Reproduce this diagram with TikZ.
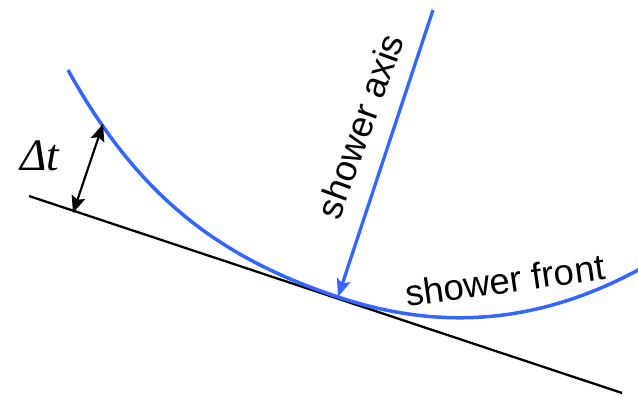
\documentclass[tikz,border=0pt]{standalone}
\usepackage{fontspec}
\setmainfont{Liberation Sans}
\newfontfamily\dtfont{Liberation Serif}
\usetikzlibrary{arrows.meta}
\definecolor{frontblue}{RGB}{51,102,255}
\tikzset{
  ground/.style={line width=2.3pt, black},
  front/.style={line width=3.5pt, frontblue},
  axisline/.style={line width=3.3pt, frontblue, -{Stealth[length=18pt,width=14pt,inset=4pt]}},
  dthead/.style={},
  dtarrow/.style={line width=2.2pt, black, {Stealth[length=17pt,width=14pt,inset=3pt]}-{Stealth[length=17pt,width=14pt,inset=3pt]}},
  lab/.style={inner sep=0pt, font=\fontsize{36.5}{42}\selectfont},
}
\begin{document}
\begin{tikzpicture}[x=1pt,y=-1pt]
\useasboundingbox (0,0) rectangle (638,398);
\coordinate (gl) at (29,196);
\coordinate (gr) at (622,393);
\draw[ground] (gl) -- (gr);
\coordinate (fs) at (68,70);
\coordinate (fc) at (338,297);
\coordinate (fe) at (640,269);
\draw[front] (fs) .. controls (138,196) and (218,257) .. (fc) .. controls (428,327) and (528,330) .. (fe);
\coordinate (at) at (433,10);
\draw[axisline] (at) -- (fc);
\coordinate (d1) at (103,124);
\coordinate (d2) at (73,213);
\draw[dtarrow] (d1) -- (d2);
\node[lab, rotate=70] (axislabel) at (360,126) {shower axis};
\node[lab, rotate=8] (frontlabel) at (505,280) {shower front};
\node[lab, font=\dtfont\itshape\fontsize{45}{50}\selectfont] (dt) at (40,156) {Δt};
\end{tikzpicture}
\end{document}
